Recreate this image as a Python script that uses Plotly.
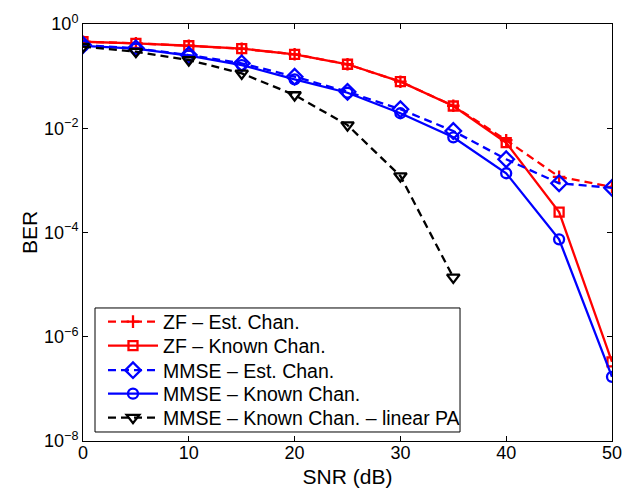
import plotly.graph_objects as go

snr = [0, 5, 10, 15, 20, 25, 30, 35, 40, 45, 50]
snr_pa = [0, 5, 10, 15, 20, 25, 30, 35]

zf_est = [0.457, 0.426, 0.383, 0.336, 0.262, 0.169, 0.0782, 0.0270, 0.0059, 1.17e-3, 7.5e-4]
zf_known = [0.457, 0.426, 0.383, 0.336, 0.262, 0.169, 0.0782, 0.0267, 0.00528, 2.47e-4, 3.3e-7]
mmse_est = [0.396, 0.341, 0.254, 0.176, 0.0977, 0.050, 0.0231, 8.85e-3, 2.54e-3, 8.8e-4, 7.2e-4]
mmse_known = [0.38, 0.338, 0.248, 0.163, 0.0869, 0.048, 0.0194, 6.7e-3, 1.37e-3, 7.4e-5, 1.7e-7]
mmse_pa = [0.367, 0.294, 0.204, 0.113, 0.0434, 0.0115, 1.21e-3, 1.38e-5]

names = ["ZF – Est. Chan.", "ZF – Known Chan.", "MMSE – Est. Chan.",
         "MMSE – Known Chan.", "MMSE – Known Chan. – linear PA"]

ytickvals = [1e-8, 1e-6, 1e-4, 1e-2, 1]
yticktext = ["10<sup>−8</sup>", "10<sup>−6</sup>", "10<sup>−4</sup>", "10<sup>−2</sup>", "10<sup>0</sup>"]
xtickvals = [0, 10, 20, 30, 40, 50]

FONT = "Liberation Sans, Arial, sans-serif"
DASH = "8px,5px"
LW = 2.3

styles = [
    dict(color="#ff0000", dash=DASH, symbol="cross-thin-open", size=9),
    dict(color="#ff0000", dash="solid", symbol="square-open", size=9),
    dict(color="#0000ff", dash=DASH, symbol="diamond-open", size=12),
    dict(color="#0000ff", dash="solid", symbol="circle-open", size=10),
    dict(color="#000000", dash=DASH, symbol="triangle-down-open", size=11),
]
xs = [snr, snr, snr, snr, snr_pa]
ys = [zf_est, zf_known, mmse_est, mmse_known, mmse_pa]
legend_ids = ["legend", "legend2", "legend3", "legend4", "legend5"]

fig = go.Figure()
for i in range(5):
    s = styles[i]
    fig.add_trace(go.Scatter(
        x=xs[i], y=ys[i], name=names[i], mode="lines+markers", legend=legend_ids[i],
        line=dict(color=s["color"], width=LW, dash=s["dash"]),
        marker=dict(symbol=s["symbol"], size=s["size"], color=s["color"],
                    line=dict(color=s["color"], width=LW))))

# plot area (page px): x 83..612, y 24..441
row_px = [322, 346, 370.5, 394, 418]
legend_layout = {}
for i, lid in enumerate(legend_ids):
    legend_layout[lid] = dict(
        x=0.0378, y=(441 - row_px[i]) / 417, xanchor="left", yanchor="middle",
        bgcolor="rgba(0,0,0,0)", borderwidth=0,
        font=dict(family=FONT, size=19.5, color="black"),
        itemwidth=50)

fig.update_layout(
    width=624, height=491,
    margin=dict(l=83, r=12, t=24, b=50),
    paper_bgcolor="white", plot_bgcolor="white",
    font=dict(family=FONT, size=18, color="black"),
    showlegend=True,
    shapes=[dict(type="rect", xref="paper", yref="paper",
                 x0=0.0227, x1=0.7127, y0=0.0216, y1=0.319,
                 line=dict(color="black", width=1), fillcolor="white", layer="above")],
    **legend_layout,
)
fig.update_xaxes(range=[0, 50], tickvals=xtickvals, ticks="inside", ticklen=5,
                 tickcolor="black", showline=True, linecolor="black", linewidth=1,
                 mirror="ticks", showgrid=False, zeroline=False,
                 ticklabelstandoff=-5, automargin=False,
                 title=dict(text="SNR (dB)", font=dict(size=21), standoff=7),
                 tickfont=dict(size=18))
fig.update_yaxes(type="log", range=[-8, 0], tickvals=ytickvals, ticktext=yticktext,
                 ticks="inside", ticklen=5, tickcolor="black", showline=True,
                 linecolor="black", linewidth=1, mirror="ticks", showgrid=False,
                 zeroline=False, automargin=False,
                 title=dict(text="BER", font=dict(size=21), standoff=0),
                 tickfont=dict(size=18))

fig.write_html("out.html",
               config={"displayModeBar": False},
               post_script="document.body.style.margin='0';document.body.style.overflow='hidden';")
